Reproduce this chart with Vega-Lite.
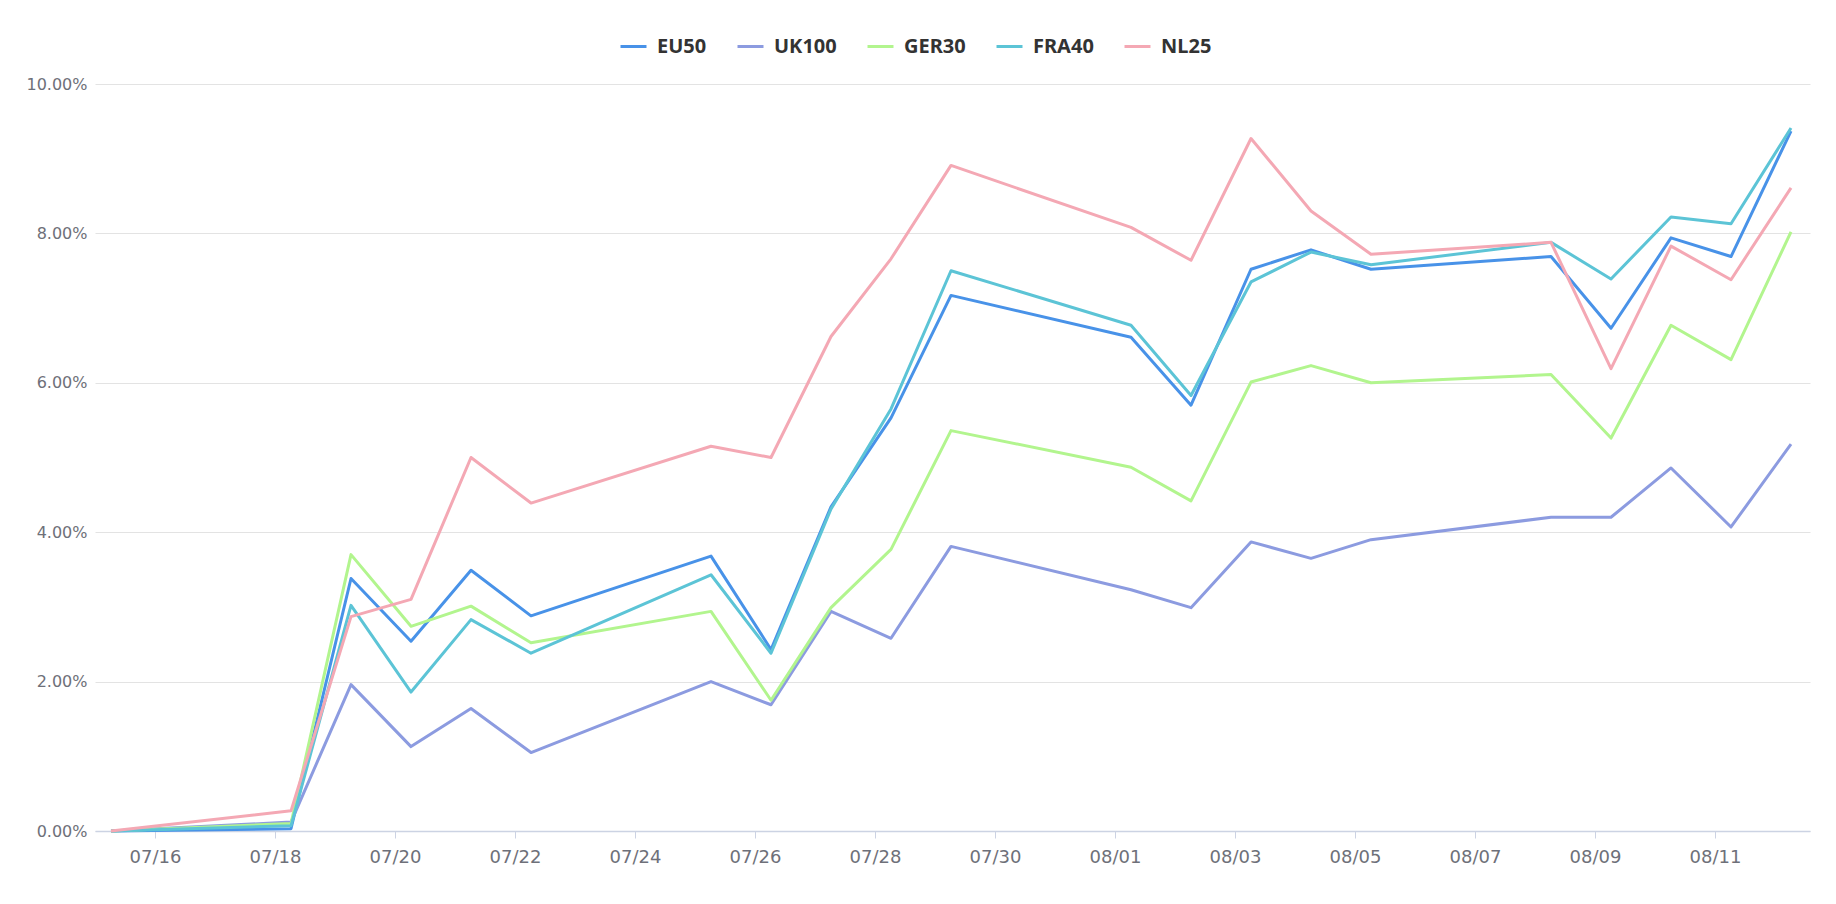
{
  "$schema": "https://vega.github.io/schema/vega-lite/v6.json",
  "width": 1715,
  "height": 747,
  "autosize": {"type": "none"},
  "padding": {"left": 95, "top": 84, "right": 26, "bottom": 73},
  "background": "#ffffff",
  "config": {
    "view": {"stroke": null},
    "axis": {"labelFont": "DejaVu Sans", "labelColor": "#6e7079"}
  },
  "data": {
    "values": [
      {"date": "2024-07-15T06:24:00Z", "EU50": 0, "UK100": 0, "GER30": 0, "FRA40": 0, "NL25": 0},
      {"date": "2024-07-18T06:24:00Z", "EU50": 0.0003, "UK100": 0.0012, "GER30": 0.0010, "FRA40": 0.0007, "NL25": 0.0027},
      {"date": "2024-07-19T06:24:00Z", "EU50": 0.0338, "UK100": 0.0196, "GER30": 0.0370, "FRA40": 0.0302, "NL25": 0.0287},
      {"date": "2024-07-20T06:24:00Z", "EU50": 0.0254, "UK100": 0.0113, "GER30": 0.0274, "FRA40": 0.0186, "NL25": 0.0310},
      {"date": "2024-07-21T06:24:00Z", "EU50": 0.0349, "UK100": 0.0164, "GER30": 0.0301, "FRA40": 0.0283, "NL25": 0.0500},
      {"date": "2024-07-22T06:24:00Z", "EU50": 0.0288, "UK100": 0.0105, "GER30": 0.0252, "FRA40": 0.0238, "NL25": 0.0439},
      {"date": "2024-07-25T06:24:00Z", "EU50": 0.0368, "UK100": 0.0200, "GER30": 0.0294, "FRA40": 0.0343, "NL25": 0.0515},
      {"date": "2024-07-26T06:24:00Z", "EU50": 0.0243, "UK100": 0.0169, "GER30": 0.0175, "FRA40": 0.0238, "NL25": 0.0500},
      {"date": "2024-07-27T06:24:00Z", "EU50": 0.0434, "UK100": 0.0294, "GER30": 0.0299, "FRA40": 0.0431, "NL25": 0.0662},
      {"date": "2024-07-28T06:24:00Z", "EU50": 0.0553, "UK100": 0.0258, "GER30": 0.0377, "FRA40": 0.0565, "NL25": 0.0766},
      {"date": "2024-07-29T06:24:00Z", "EU50": 0.0717, "UK100": 0.0381, "GER30": 0.0536, "FRA40": 0.0750, "NL25": 0.0891},
      {"date": "2024-08-01T06:24:00Z", "EU50": 0.0661, "UK100": 0.0323, "GER30": 0.0487, "FRA40": 0.0677, "NL25": 0.0808},
      {"date": "2024-08-02T06:24:00Z", "EU50": 0.0570, "UK100": 0.0299, "GER30": 0.0442, "FRA40": 0.0583, "NL25": 0.0764},
      {"date": "2024-08-03T06:24:00Z", "EU50": 0.0752, "UK100": 0.0387, "GER30": 0.0601, "FRA40": 0.0735, "NL25": 0.0927},
      {"date": "2024-08-04T06:24:00Z", "EU50": 0.0778, "UK100": 0.0365, "GER30": 0.0623, "FRA40": 0.0775, "NL25": 0.0830},
      {"date": "2024-08-05T06:24:00Z", "EU50": 0.0752, "UK100": 0.0390, "GER30": 0.0600, "FRA40": 0.0758, "NL25": 0.0772},
      {"date": "2024-08-08T06:24:00Z", "EU50": 0.0769, "UK100": 0.0420, "GER30": 0.0611, "FRA40": 0.0788, "NL25": 0.0788},
      {"date": "2024-08-09T06:24:00Z", "EU50": 0.0673, "UK100": 0.0420, "GER30": 0.0526, "FRA40": 0.0739, "NL25": 0.0619},
      {"date": "2024-08-10T06:24:00Z", "EU50": 0.0794, "UK100": 0.0486, "GER30": 0.0677, "FRA40": 0.0822, "NL25": 0.0783},
      {"date": "2024-08-11T06:24:00Z", "EU50": 0.0769, "UK100": 0.0407, "GER30": 0.0631, "FRA40": 0.0813, "NL25": 0.0738},
      {"date": "2024-08-12T06:24:00Z", "EU50": 0.0937, "UK100": 0.0518, "GER30": 0.0802, "FRA40": 0.0941, "NL25": 0.0861}
    ]
  },
  "transform": [
    {"fold": ["EU50", "UK100", "GER30", "FRA40", "NL25"], "as": ["series", "value"]}
  ],
  "mark": {"type": "line", "strokeWidth": 3, "interpolate": "linear", "strokeJoin": "round"},
  "encoding": {
    "x": {
      "field": "date",
      "type": "temporal",
      "scale": {
        "type": "utc",
        "domain": [
          {"year": 2024, "month": 7, "date": 15, "utc": true},
          {"year": 2024, "month": 8, "date": 12, "hours": 14, "utc": true}
        ]
      },
      "axis": {
        "title": null,
        "format": "%m/%d",
        "values": [
          {"year": 2024, "month": 7, "date": 16, "utc": true},
          {"year": 2024, "month": 7, "date": 18, "utc": true},
          {"year": 2024, "month": 7, "date": 20, "utc": true},
          {"year": 2024, "month": 7, "date": 22, "utc": true},
          {"year": 2024, "month": 7, "date": 24, "utc": true},
          {"year": 2024, "month": 7, "date": 26, "utc": true},
          {"year": 2024, "month": 7, "date": 28, "utc": true},
          {"year": 2024, "month": 7, "date": 30, "utc": true},
          {"year": 2024, "month": 8, "date": 1, "utc": true},
          {"year": 2024, "month": 8, "date": 3, "utc": true},
          {"year": 2024, "month": 8, "date": 5, "utc": true},
          {"year": 2024, "month": 8, "date": 7, "utc": true},
          {"year": 2024, "month": 8, "date": 9, "utc": true},
          {"year": 2024, "month": 8, "date": 11, "utc": true}
        ],
        "grid": false,
        "domainColor": "#ccd3e3",
        "domainWidth": 1.5,
        "tickColor": "#ccd3e3",
        "tickSize": 7,
        "labelPadding": 10,
        "labelFontSize": 18,
        "labelFlush": false
      }
    },
    "y": {
      "field": "value",
      "type": "quantitative",
      "scale": {"domain": [0, 0.1], "nice": false, "zero": true},
      "axis": {
        "title": null,
        "format": ".2%",
        "values": [0, 0.02, 0.04, 0.06, 0.08, 0.1],
        "domain": false,
        "ticks": false,
        "tickSize": 0,
        "labelPadding": 8,
        "labelFontSize": 16,
        "gridColor": "#e3e3e3",
        "gridWidth": 1
      }
    },
    "color": {
      "field": "series",
      "type": "nominal",
      "scale": {
        "domain": ["EU50", "UK100", "GER30", "FRA40", "NL25"],
        "range": ["#4892e8", "#8c9be0", "#b2f58e", "#5cc4d6", "#f4a8b4"]
      },
      "legend": {
        "title": null,
        "orient": "none",
        "direction": "horizontal",
        "legendX": 524,
        "legendY": -52,
        "symbolType": "stroke",
        "symbolSize": 676,
        "symbolStrokeWidth": 3,
        "labelFont": "Noto Sans",
        "labelFontSize": 20,
        "labelFontWeight": "bold",
        "labelColor": "#333333",
        "labelOffset": 9,
        "columnPadding": 24,
        "gridAlign": "none"
      }
    },
    "order": {"field": "date", "type": "temporal"}
  }
}
